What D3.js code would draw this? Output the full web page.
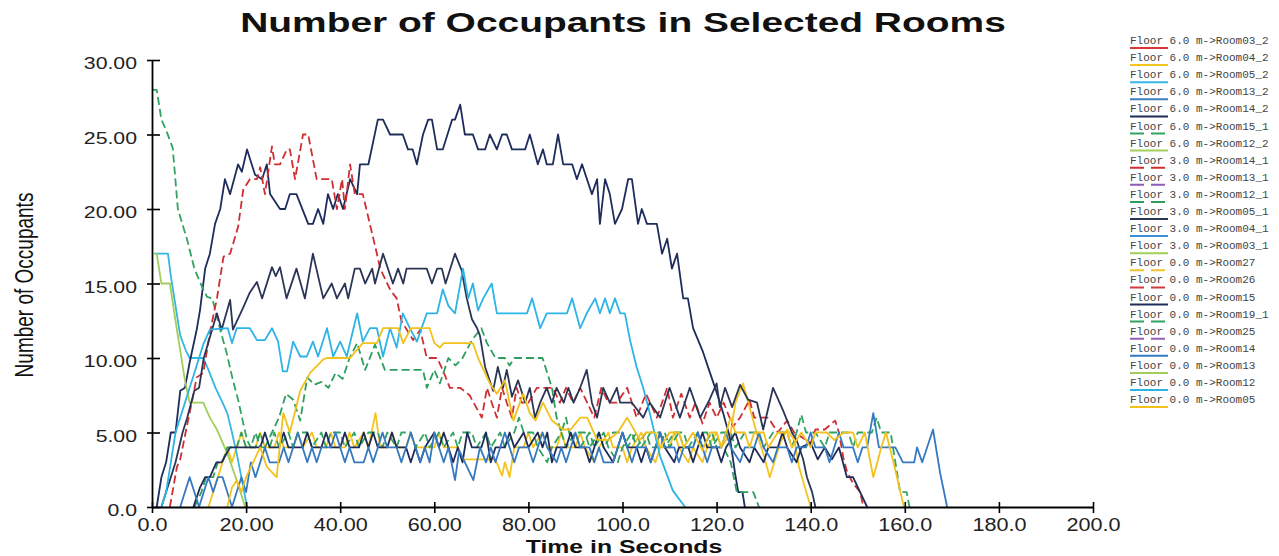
<!DOCTYPE html>
<html>
<head>
<meta charset="utf-8">
<script src="https://cdn.jsdelivr.net/npm/d3@7"></script>
<style>
  body { margin: 0; background: #fff; }
  svg { display: block; }
</style>
</head>
<body>
<script>
// Number of occupants in selected rooms

const w = 1279;
const h = 556;

const xTicks = [0, 20, 40, 60, 80, 100, 120, 140, 160, 180, 200];
const xTickLabels = ["0.0", "20.00", "40.00", "60.00", "80.00", "100.0", "120.0", "140.0", "160.0", "180.0", "200.0"];
const yTicks = [0, 5, 10, 15, 20, 25, 30];
const yTickLabels = ["0.0", "5.00", "10.00", "15.00", "20.00", "25.00", "30.00"];

const seriesNames = [
  "Floor 6.0 m->Room03_2", "Floor 6.0 m->Room04_2", "Floor 6.0 m->Room05_2", "Floor 6.0 m->Room13_2",
  "Floor 6.0 m->Room14_2", "Floor 6.0 m->Room15_1", "Floor 6.0 m->Room12_2", "Floor 3.0 m->Room14_1",
  "Floor 3.0 m->Room13_1", "Floor 3.0 m->Room12_1", "Floor 3.0 m->Room05_1", "Floor 3.0 m->Room04_1",
  "Floor 3.0 m->Room03_1", "Floor 0.0 m->Room27", "Floor 0.0 m->Room26", "Floor 0.0 m->Room15",
  "Floor 0.0 m->Room19_1", "Floor 0.0 m->Room25", "Floor 0.0 m->Room14", "Floor 0.0 m->Room13",
  "Floor 0.0 m->Room12", "Floor 0.0 m->Room05"
];
const seriesColors = [
  "#d7373a", "#f6c41e", "#35b6e3", "#3d7fbe", "#1e2c5c", "#31a462", "#a2ce5c", "#cf2f33",
  "#8f5db8", "#2e9e5e", "#2b3657", "#3b8dd4", "#9fcf55", "#f1c232", "#cf3a3f", "#202c58",
  "#2ea164", "#9560b5", "#3579c0", "#a3cc5a", "#2db4e6", "#f3c11c"
];
const seriesDashed = [
  false, false, false, false, false, true, false, true,
  true, true, false, false, false, true, true, false,
  true, true, false, false, false, false
];

// [time, occupants]
const room14_2 = [[1,0],[2,2],[3,3],[4,5],[5,5],[6,7.8],[7,8],[8,9.7],[9.5,11.9],[10.2,13.2],[11.3,16],[12.3,17],[13.4,19],[14.5,20],[15.5,22],[16.6,21],[18.3,23],[19.1,22.5],[20.2,24],[21.9,22.3],[23.4,22],[24.4,23],[25.1,21],[27.2,20],[28.3,20],[29.3,21],[30.7,21],[33.2,19],[34.2,19],[35.3,20],[36.4,19],[37.4,21],[38.5,20],[39.5,21],[40.6,20],[42.1,22],[43.6,21],[44.2,23],[46,23],[48,26],[49.1,26],[50.6,25],[53.3,25],[54.4,24],[55.4,24],[56.3,23],[57.6,25],[58.7,26],[59.5,26],[60.6,24],[61.8,24],[63.8,26],[64.4,26],[65.5,27],[66.5,25],[68.2,25],[69.3,24],[70.8,24],[71.8,25],[73.3,24],[74.4,25],[75.4,25],[76.5,24],[79.3,24],[80.3,25],[82,23],[83.1,24],[83.9,23],[85.2,23],[86.3,25],[87.4,23],[89.3,23],[90.3,22],[91.4,23],[93.5,21],[94.6,22],[95.2,19],[96.3,22],[97.3,21],[98.4,19],[99.9,20],[101.2,22],[102,22],[103.3,19],[104.1,20],[105.2,19],[107.3,19],[108.4,17],[109.5,18],[110.5,16],[111.6,17],[112.9,14],[113.9,14],[115,12],[117,10.5],[118.6,9],[120,7.7],[121.4,6.3],[122.8,4.7],[123.9,2.3],[124.6,1],[125.5,1],[126,0]];

const room14_1 = [[3.8,0],[5.3,2.7],[6,3.2],[7.4,5.4],[8.7,7.4],[9.5,8.7],[10.9,9],[12.3,11.7],[13.8,14],[15.2,16.8],[16.6,17],[18.3,18.8],[19.4,21.3],[20.8,22],[22.3,22],[23,22.8],[24,21],[25.5,24.2],[26.1,23],[27.2,23],[28.7,24],[29.3,24],[30.4,22],[32.1,25],[33.2,25],[35,22],[38.2,22],[39.3,20],[40.4,22],[41,20],[42.1,23],[43.1,21],[44.8,21],[46.3,19],[47.8,17],[48.5,16],[50.6,14.6],[52,14],[53,12.5],[55.5,11.2],[57,11.9],[58.4,10],[60.6,10],[61.8,9.2],[63.3,8],[65.5,8],[67.5,7.5],[70.1,6],[71.2,8],[72.2,7],[73.3,6],[74.4,8],[75.4,7],[76.5,6],[77.5,8],[78.6,7],[80,7],[81.8,8],[85.2,8],[86.7,7],[88,8],[89.5,7],[91,8],[92.5,7],[94,6],[95.5,8],[97,7],[98.8,7],[101,8],[103,6],[105,7.6],[107.3,6],[109.5,8],[110.7,6],[112.5,7.6],[114.3,6],[115.5,7],[117,5.6],[118.5,7],[120,6],[121.5,7],[123.5,5.4],[125,6],[127,7.2],[128,6],[131,6],[133,5],[135,5.8],[136.5,5],[140,4.3],[141,5.2],[143,5.2],[145.2,5.8],[146,5],[147,3.2],[147.8,2.3],[149,1.6],[150.5,1],[151.2,0]];

const room05_1 = [[2,0],[3,1],[4,2],[5,3],[6.5,5],[7.5,6],[9,7.8],[10,8],[11,10],[13.8,13],[14.8,11.9],[16.6,13.9],[17.2,11.9],[19.4,13.4],[20.8,14.4],[22.3,15.1],[23.4,14],[25.5,16.1],[26.3,15.5],[27.2,16.1],[28.6,14],[30.7,16],[32.5,14],[34.2,17],[36.4,14],[38.2,15],[39.3,14],[41,15],[41.7,14],[43.1,16],[44.2,16],[45.3,15],[46.8,16],[47.4,15],[49.1,17],[51.2,15],[52.3,16],[53.4,15],[54.1,16],[58.4,16],[59.5,15],[60.6,16],[61.6,16],[62.4,15],[64.4,17],[65.8,15.9],[66.9,14],[68,12.6],[69.1,12],[69.7,11.5],[70.8,9.4],[72.5,7.8],[73.5,9.4],[74.6,8],[75.4,9.2],[76.5,7.4],[77.8,8.5],[79.3,7],[80.3,8],[81.4,6],[82.5,7],[83.9,8],[85,7],[86,8],[87.5,7],[88.5,8],[89.6,7],[91,8],[92.4,9.2],[93.5,7],[94.6,6],[95.9,8],[97.3,7],[98.8,8],[99.5,7],[102,7],[104.4,6],[105.8,7],[108,6],[110,8],[112.2,6],[114.3,8],[116.5,6],[118.5,7.2],[120,8.3],[120.7,6.7],[121.8,8],[123.3,6.7],[125,8.2],[126.7,7.2],[128.6,7],[129.9,5.2],[132,8],[134.1,6.5],[136,5],[137,4.5],[138.4,3.2],[139.2,2],[140.3,1],[141,0]];

const room15 = [[8.8,0],[10.2,1.3],[11.3,2],[12.3,2],[13.7,3],[14.8,3],[16.6,4],[23,4],[24,5],[25,4],[27,4],[28,5],[29,4],[32,4],[33,5],[34,4],[36,4],[37,5],[38,4],[40,4],[41,5],[42,4],[44,4],[45,5],[46,4],[47,5],[48,4],[50,4],[51,5],[52,4],[54,4],[55,3],[56,4],[57,3],[58,4],[60,5],[61,4],[62,5],[63,4],[64,3],[65,4],[66,3],[67,5],[68,4],[70,4],[71,5],[72,3],[73,4],[75,4],[76,5],[77,4],[79,5],[80,4],[82,5],[83,4],[84,5],[85,3],[86,4],[88,4],[89,5],[90,4],[92,4],[93,3],[94,4],[95,5],[96,4],[98,3],[99,4],[100,5],[101,4],[103,4],[104,3],[105,4],[106,3],[107,4],[108,5],[109,4],[111,3],[112,4],[114,4],[115,3],[116,4],[117,5],[118,4],[120,4],[121,3],[122,4],[124,5],[125,4],[127,3],[128,4],[130,3],[131,4],[133,4],[134,5],[135,4],[137,3],[138,4],[140,4.3],[141.5,3.2],[143,4],[144.5,3.2],[146,4],[147.7,2],[149,2],[150.5,1],[152,0]];

const room14 = [[6,0],[7,1],[8,2],[9,1],[10,0],[11,1],[12,2],[13,1],[14,2],[15,2],[16,1],[17,0],[18,1],[19,2],[20,1],[21,3],[22,2],[23,3],[24,4],[25,3],[27,3],[28,4],[29,3],[30,4],[31,5],[32,4],[33,3],[34,4],[35,3],[36,4],[38,4],[39,5],[40,4],[41,3],[42,4],[43,3],[45,3],[46,4],[47,3],[48,4],[49,5],[50,4],[52,4],[53,3],[54,4],[55,5],[56,4],[57,3],[58,4],[59,3],[60,5],[61,4],[62,3],[63,4],[64.4,1.8],[65.3,3.8],[66.5,3],[68.3,1.8],[69.7,4],[71,3],[72,4],[73,3],[74,4],[75,5],[76,4],[77,3],[78,4],[80,4],[81,3],[82,4],[83,5],[84,4],[86,3],[87,4],[88,3],[89,4],[90,5],[91,4],[93,4],[94,3],[95,4],[96,3],[98,3],[99,4],[100,5],[101,4],[102,3],[103,4],[105,4],[106,3],[107,4],[108,5],[109,4],[111,4],[112,3],[113,4],[115,4],[116,5],[117,4],[118,3],[119,4],[121,4],[122,5],[123,4],[125,3],[126,4],[128,4],[129,5],[130,4],[132,3],[133,4],[135,4],[136,3],[137,4],[139,4],[140,5],[141,4],[143,4],[144,3],[145,4],[146,5],[147,4],[149,4],[150,3],[151,4],[152,4],[153.3,6.3],[154.5,4],[156,4],[158,4],[159.6,3],[162,3],[162.6,4],[163.7,3],[166,5.2],[167.5,2.3],[169,0]];

const room15_1 = [[0,28],[1,28],[2,26],[3,25.3],[4.4,24.1],[5.5,20],[7.5,17.9],[9,16],[10.6,14.8],[11.7,14.1],[12.8,14],[14.5,11.9],[15.9,10.3],[17.2,8.5],[18.3,7.2],[19.4,5.6],[20.2,4.5],[21,4],[22,5],[23,4],[25,4],[26,5],[27,4],[29,5],[30,4],[31,5],[33,5],[34,4],[36,5],[37,4],[38,5],[40,5],[41,4],[43,5],[44,4],[46,5],[48,5],[49,4],[50,5],[52,4],[53,5],[55,5],[56,4],[58,5],[59,4],[61,5],[62,4],[64,5],[65,4],[66,5],[68,5],[69,4],[71,5],[72,4],[74,5],[75,4],[77,5],[78,6],[79,5],[81,5],[82,4],[84,3],[85,4],[87,5],[88,4],[90,5],[92,5],[93,4],[95,5],[96,4],[98,5],[100,5],[101,4],[103,5],[104,4],[106,5],[108,5],[109,4],[111,5],[113,5],[114,4],[116,5],[118,5],[119,4],[121,5],[123,5],[124,4],[126,5],[129,5],[130,4],[132,5],[135,5],[136,4],[137,5],[138,6.2],[139,5],[141,5],[143,4],[144,5],[148,5],[149,4],[150,5],[153,5],[154,6],[155,5],[157,5],[158,3],[159,1],[160.4,1],[161,0]];

const room12_1 = [[9,0],[10.5,1],[11.5,2],[13,2],[14,3],[15,3],[16,4],[18,4],[19,5],[20,4],[22,4],[23,5],[24,4],[25.5,5],[27,6],[28.5,7.6],[30,7.2],[31.5,5.8],[33,8.7],[34.5,8.2],[36,8.4],[37.5,8],[39,9],[40.5,8.6],[42,10],[43.6,11],[45.3,9.2],[47.4,10.9],[49.5,9.2],[57.6,9.2],[58.4,8],[60,9.2],[61.2,8.3],[63,10],[64.5,9.5],[66,10],[68,11.2],[70,12],[71.2,11],[73,10],[75,10],[76,9.5],[77,10],[83,10],[84,9],[85,8],[86,6],[87,5],[88,6],[89,4.5],[90,5],[91,4],[93,5],[94,4],[96,5],[97,4],[99,3],[100,4],[102,5],[103,4],[105,5],[106,4],[108,4],[109,5],[110,4],[112,5],[113,4],[115,4],[116,5],[117,4],[119,5],[120,4],[121.5,4],[123,3],[124.3,1],[127.8,1],[129,0]];

const room05_2 = [[0.5,17],[3.4,17],[4,15.5],[5,13.5],[6,11.5],[7.2,10.5],[8,10],[10.9,10],[12,9.2],[13.5,8],[15,7],[16,6.3],[17,5],[18,3.6],[19,2],[20.2,0]];

const room12_2 = [[0.5,17],[1,17],[2,15],[3.8,15],[5,12.5],[6,10.5],[7,8.5],[8,7],[10.9,7],[12.3,6],[13.8,5.2],[16,3.6],[18,1.8],[19.8,0]];

const room12 = [[2,0],[3,1],[4,3],[5,5],[6,6],[7,7],[8,8],[9,9],[10,10],[11,11],[12.3,11.9],[16.1,12],[17,11],[18,12],[20.8,12],[22.3,11.2],[24,11.2],[25.5,12],[26.8,11.1],[27.8,9.1],[28.7,9.1],[30,11.1],[31.5,10.1],[32.9,10.1],[34.2,11.1],[35.3,10.1],[37.2,12],[38.5,10.1],[40,11.1],[41.4,10.1],[43.6,13],[44.8,11.1],[46.3,12],[47.8,12],[49.1,10.1],[50.6,12],[52,10.7],[53.3,13],[54.8,12],[56.3,11.1],[58.4,13],[60.6,13],[61.8,14.6],[63,13.5],[64.4,13],[66.1,16],[67.2,14],[68.2,15],[69.3,13.2],[70.4,14],[72.2,15],[73.3,13],[79.7,13],[80.8,14],[82.5,12],[83.9,13],[88.2,13],[89.3,14],[91,12],[92.4,13],[94.2,14],[95.2,13],[96.3,14],[97.3,13],[98.4,14],[99.5,13],[100.5,13],[101.6,11.2],[103,9.4],[104.4,8],[105.8,6.3],[108,3.4],[110.7,1.1],[113.3,0]];

const room05 = [[16,0],[17,1.3],[18,1.8],[19,1],[20,2],[21.5,3],[23,4],[24.4,2.7],[26.5,2],[27.9,6.3],[29.3,5],[31.5,7.8],[33.6,9],[36.4,9.9],[37.2,10],[42.1,10],[44.8,11],[47.8,11],[49.1,12],[52.3,12],[53.4,11],[55,12],[59,12],[60,11],[61.2,10.7],[62,11],[68.2,11],[69.3,10],[71.8,8.3],[73.3,7.6],[75,8.5],[76.8,5.8],[78.9,7.6],[80.3,6.3],[81.5,5.8],[83.1,7],[85,5.8],[87.4,5.2],[89,5.2],[91,6],[92.5,6],[94.6,4.5],[97,4.5],[99,5],[101,6],[103.7,4.5],[105,5],[107,5],[108,4],[110,5],[112,5],[113,4],[115,5],[117,3.8],[118.6,5],[120,5],[121,4],[122,5],[123,6],[124,5],[126,5],[127,4],[128,5],[130,5],[131,4],[133,5],[135,5],[136,4],[138,5],[140,4],[141,5],[143.4,5],[145,4.5],[147,5],[149,5],[150,4],[151.5,5],[153.3,2],[155,4],[156,5],[157.6,3],[159,1.1],[159.8,0]];

const room04_2 = [[12,0],[13,1],[14,2],[15,3],[16,4],[17,3],[18,4],[19,5],[20,4],[22,4],[23,5],[24,4],[26,4],[27,5],[28,4],[30,4],[31,5],[32,4],[34,5],[35,4],[37,4],[38,5],[39,4],[41,4],[42,5],[43,4],[45,5],[46,4],[47.5,6.3],[48.5,4],[50,4],[51,5],[52,4],[54,4],[55,5],[56,4],[60,4],[61,5],[62,4],[65,4],[66,3.2],[73,3.2],[74.4,2.1],[75,3],[76,2],[77,4],[79,4],[80,5],[81,4],[83,5],[84,4],[86,4],[87,5],[88,4],[90,4],[91,5],[92,4],[94,3],[95,4],[97,5],[98,4],[100,4],[101,3],[102,4],[104,5],[105,4],[107,3],[108,4],[110,4],[111,5],[112,4],[114,3],[115,4],[117,3],[118,4],[120,5],[121,4],[123,5],[124,7],[125.6,8.3],[127,6.7],[128.5,5],[130,3.5],[131.3,2],[133.5,4.3],[135,5.2],[136.5,4.5],[137.5,2.7],[140,0]];

const empty = [];

const seriesData = [
  empty, room04_2, room05_2, empty, room14_2, room15_1, room12_2, room14_1,
  empty, room12_1, room05_1, empty, empty, empty, empty, room15,
  empty, empty, room14, empty, room12, room05
];

const sansFont = "'Liberation Sans', Arial, sans-serif";

const svg = d3.select("body")
  .append("svg")
  .attr("width", w)
  .attr("height", h);

const x_scale = d3.scaleLinear().domain([0, 200]).range([152, 1093]);
const y_scale = d3.scaleLinear().domain([0, 30]).range([507, 60]);

// the source picture is wider than its fonts: stretch texts sideways
function stretch(sel, k) {
  sel.each(function() {
    const len = this.getComputedTextLength();
    d3.select(this).attr("textLength", len * k).attr("lengthAdjust", "spacingAndGlyphs");
  });
}

const line = d3.line()
  .x(d => x_scale(d[0]))
  .y(d => y_scale(d[1]));

svg.append("g")
  .selectAll("path")
  .data(seriesData.map((d, i) => ({ values: d, i: i })).filter(d => d.values.length))
  .enter()
  .append("path")
  .attr("d", d => line(d.values))
  .attr("fill", "none")
  .attr("stroke", d => seriesColors[d.i])
  .attr("stroke-width", 1.8)
  .attr("stroke-linejoin", "round")
  .attr("stroke-dasharray", d => seriesDashed[d.i] ? "8,4" : null);

// axes
const xAxis = svg.append("g")
  .attr("transform", `translate(0,${y_scale(0)})`)
  .call(d3.axisBottom(x_scale).tickValues(xTicks).tickSize(6).tickSizeOuter(0)
    .tickFormat((d, i) => xTickLabels[i]));

const yAxis = svg.append("g")
  .attr("transform", `translate(${x_scale(0)},0)`)
  .call(d3.axisLeft(y_scale).tickValues(yTicks).tickSize(6).tickSizeOuter(0)
    .tickFormat((d, i) => yTickLabels[i]));

[xAxis, yAxis].forEach(a => {
  a.select(".domain").attr("stroke", "#000").attr("stroke-width", 1.8);
  a.selectAll(".tick line").attr("stroke", "#000").attr("stroke-width", 1.6);
});
xAxis.selectAll(".tick line").attr("y1", -5).attr("y2", 6);
yAxis.selectAll(".tick line").attr("x1", -5).attr("x2", 8);

xAxis.selectAll(".tick text")
  .attr("y", 24)
  .attr("dy", 0)
  .attr("fill", "#222")
  .style("font-family", sansFont)
  .style("font-size", "18px")
  .call(stretch, 1.2);

yAxis.selectAll(".tick text")
  .attr("x", -15)
  .attr("dy", "8.5px")
  .attr("fill", "#222")
  .style("font-family", sansFont)
  .style("font-size", "17px")
  .call(stretch, 1.25);

// titles
svg.append("text")
  .attr("x", 623)
  .attr("y", 32)
  .attr("text-anchor", "middle")
  .style("font-family", sansFont)
  .style("font-size", "28px")
  .style("font-weight", "bold")
  .attr("fill", "#111")
  .text("Number of Occupants in Selected Rooms")
  .call(stretch, 1.39);

svg.append("text")
  .attr("x", 624)
  .attr("y", 553)
  .attr("text-anchor", "middle")
  .style("font-family", sansFont)
  .style("font-size", "18.5px")
  .style("font-weight", "bold")
  .attr("fill", "#111")
  .text("Time in Seconds")
  .call(stretch, 1.34);

svg.append("text")
  .attr("transform", "translate(33,285) scale(1.4,1) rotate(-90)")
  .attr("text-anchor", "middle")
  .style("font-family", sansFont)
  .style("font-size", "19px")
  .attr("fill", "#111")
  .text("Number of Occupants");

// legend
const legend = svg.append("g")
  .attr("transform", "translate(1130,44)");

const legendItem = legend.selectAll(".legend-item")
  .data(seriesNames)
  .enter()
  .append("g")
  .attr("class", "legend-item")
  .attr("transform", (d, i) => `translate(0,${i * 17.1})`);

legendItem.append("line")
  .attr("x1", 0)
  .attr("x2", 38)
  .attr("y1", 4)
  .attr("y2", 4)
  .attr("stroke", (d, i) => seriesColors[i])
  .attr("stroke-width", 2)
  .attr("stroke-dasharray", (d, i) => seriesDashed[i] ? "14,7" : null);

legendItem.append("text")
  .attr("x", 0)
  .attr("y", 0)
  .style("font-family", "'Liberation Mono', 'DejaVu Sans Mono', monospace")
  .style("font-size", "11px")
  .attr("fill", "#444")
  .text(d => d);
</script>
</body>
</html>
